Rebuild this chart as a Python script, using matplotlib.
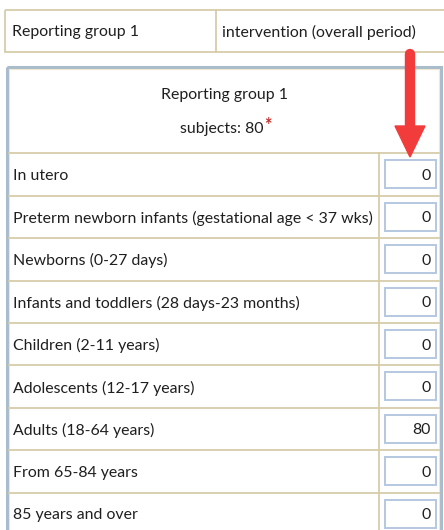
import matplotlib
matplotlib.use("Agg")
import matplotlib.pyplot as plt
from matplotlib.patches import Rectangle, FancyArrow

# table content
group_name = "Reporting group 1"
period_name = "intervention (overall period)"
subjects_total = 80
age_categories = [
    "In utero",
    "Preterm newborn infants (gestational age < 37 wks)",
    "Newborns (0-27 days)",
    "Infants and toddlers (28 days-23 months)",
    "Children (2-11 years)",
    "Adolescents (12-17 years)",
    "Adults (18-64 years)",
    "From 65-84 years",
    "85 years and over",
]
age_counts = [0, 0, 0, 0, 0, 0, 80, 0, 0]

W, H = 444, 530
TAN = "#d6cda9"
BLUE_GREY = "#a9bccb"
BOX = "#b4c8e0"
TXT = "#1f1f1f"
FONT = "Lato"
FS = 11.4

fig = plt.figure(figsize=(W / 100, H / 100), dpi=100)
ax = fig.add_axes([0, 0, 1, 1])
ax.set_xlim(0, W)
ax.set_ylim(H, 0)
ax.axis("off")

# top header table
ax.add_patch(Rectangle((5, 9.5), 445, 42.5, fill=False, ec=TAN, lw=1.3))
ax.plot([216, 216], [9.5, 52], color=TAN, lw=1.3)
ax.text(12, 32, group_name, fontsize=FS, family=FONT, color=TXT, va="center")
ax.text(222, 32, period_name, fontsize=FS, family=FONT, color=TXT, va="center")

# main table frame
top, row0, row_h = 67, 153.3, 42.4
left, right, split = 7, 441, 379
ax.add_patch(Rectangle((left, top), right - left, H + 20 - top, fill=False,
                       ec=BLUE_GREY, lw=2.2))
ax.add_patch(Rectangle((left + 2, top + 2), right - left - 4, H + 20 - top,
                       fill=False, ec="#efe8cf", lw=0.8))

ax.text(224, 95, group_name, fontsize=FS, family=FONT, color=TXT,
        ha="center", va="center")
sub = ax.text(222, 129, f"subjects: {subjects_total}", fontsize=FS, family=FONT,
              color=TXT, ha="center", va="center")
fig.canvas.draw()
bb = sub.get_window_extent().transformed(ax.transData.inverted())
ax.text(bb.x1 + 0.5, 125, "*", fontsize=13, family=FONT, color="#c0302a",
        fontweight="bold", ha="left", va="center")

ax.plot([left + 2, right - 2], [row0, row0], color=TAN, lw=1.3)
ax.plot([split, split], [row0, H + 10], color=TAN, lw=1.3)

for i, (cat, n) in enumerate(zip(age_categories, age_counts)):
    y0 = row0 + i * row_h
    yc = y0 + row_h / 2 + 1.5
    if i > 0:
        ax.plot([left + 2, right - 2], [y0, y0], color=TAN, lw=1.3)
    ax.text(13, yc, cat, fontsize=FS, family=FONT, color=TXT, va="center")
    ax.add_patch(Rectangle((385, y0 + 7), 51, 28, fc="white", ec=BOX, lw=1.4))
    ax.text(431, yc, str(n), fontsize=FS, family=FONT, color=TXT,
            ha="right", va="center")

# red arrow pointing at the counts column
ax.plot([410, 410], [54, 128], color="#f23c3c", lw=7.5, solid_capstyle="round",
        zorder=5)
ax.add_patch(FancyArrow(410, 126, 0, 31, width=0, head_width=30, head_length=31,
                        length_includes_head=True, color="#f23c3c", zorder=5))

fig.savefig("out.png", dpi=100)
